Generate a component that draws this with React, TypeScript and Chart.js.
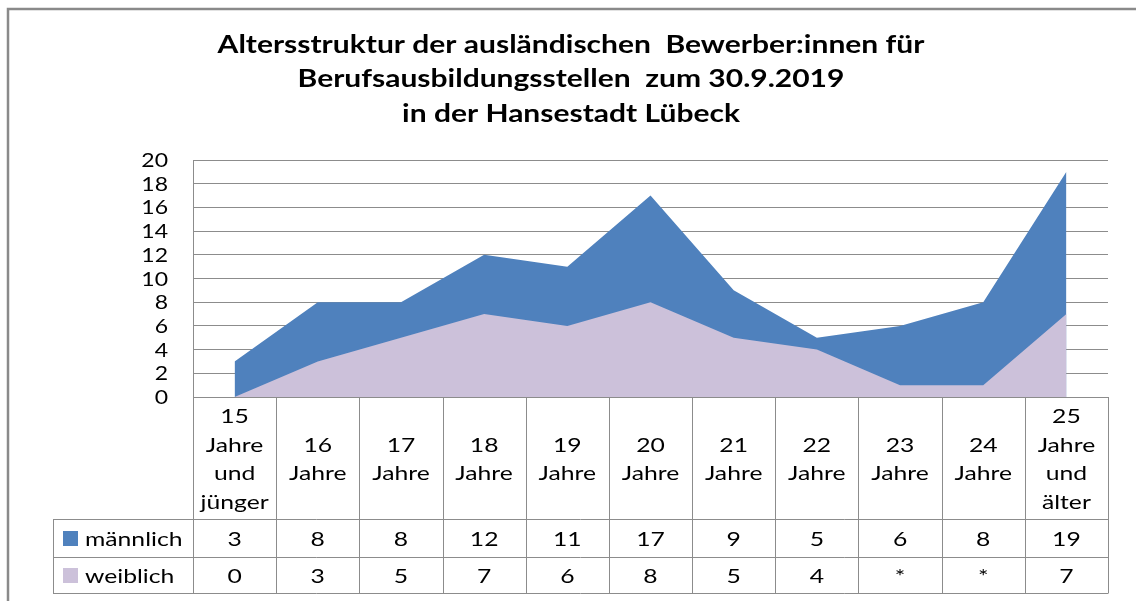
import React, { useEffect, useRef } from "react";
import { Chart, registerables } from "chart.js";

Chart.register(...registerables);

const titleLines = [
  "Altersstruktur der ausländischen  Bewerber:innen für",
  "Berufsausbildungsstellen  zum 30.9.2019",
  "in der Hansestadt Lübeck",
];

const categoryLines: string[][] = [
  ["15", "Jahre", "und", "jünger"],
  ["16", "Jahre"],
  ["17", "Jahre"],
  ["18", "Jahre"],
  ["19", "Jahre"],
  ["20", "Jahre"],
  ["21", "Jahre"],
  ["22", "Jahre"],
  ["23", "Jahre"],
  ["24", "Jahre"],
  ["25", "Jahre", "und", "älter"],
];

const seriesNames = ["männlich", "weiblich"];
const maennlich = [3, 8, 8, 12, 11, 17, 9, 5, 6, 8, 19];
// plotted values (table shows "*" for suppressed small values)
const weiblich = [0, 3, 5, 7, 6, 8, 5, 4, 1, 1, 7];
const weiblichTable = ["0", "3", "5", "7", "6", "8", "5", "4", "*", "*", "7"];

const COLOR_M = "#4F81BD";
const COLOR_W = "#CCC1DA";
const LINE = "#8c8c8c";
const FONT = "Lato, 'Open Sans', sans-serif";

function stretchText(
  ctx: CanvasRenderingContext2D,
  text: string,
  x: number,
  y: number,
  align: "left" | "center" | "right",
  sx: number
) {
  ctx.save();
  ctx.translate(x, y);
  ctx.scale(sx, 1);
  ctx.textAlign = align;
  ctx.fillText(text, 0, 0);
  ctx.restore();
}

const decorPlugin = {
  id: "decor",
  afterDraw(chart: any) {
    const ctx: CanvasRenderingContext2D = chart.ctx;
    const area = chart.chartArea;
    const xs = chart.scales.x;
    const ys = chart.scales.y;
    const n = categoryLines.length;
    const left = area.left;
    const right = area.right;
    const colW = (right - left) / n;
    const top = area.bottom;
    const headerBottom = top + 122;
    const row1Bottom = headerBottom + 38;
    const row2Bottom = row1Bottom + 36;
    const legendLeft = 53;

    ctx.save();
    // outer frame
    ctx.strokeStyle = "#8a8a8a";
    ctx.lineWidth = 2.5;
    ctx.beginPath();
    ctx.moveTo(8, chart.height + 2);
    ctx.lineTo(8, 9);
    ctx.lineTo(chart.width + 2, 9);
    ctx.stroke();

    // title
    ctx.fillStyle = "#000";
    ctx.textBaseline = "alphabetic";
    ctx.font = `bold 25px ${FONT}`;
    const tBase = [53, 87, 122];
    titleLines.forEach((t, i) => stretchText(ctx, t, 571, tBase[i], "center", 1.2));

    // y tick labels (from the y scale's ticks)
    ctx.font = `20px ${FONT}`;
    ys.ticks.forEach((t: any) => {
      const y = ys.getPixelForValue(t.value);
      stretchText(ctx, String(t.value), 168, y + 7, "right", 1.15);
    });

    // table lines
    ctx.strokeStyle = LINE;
    ctx.lineWidth = 1;
    ctx.beginPath();
    const hl = (x1: number, x2: number, y: number) => {
      ctx.moveTo(x1, Math.round(y) + 0.5);
      ctx.lineTo(x2, Math.round(y) + 0.5);
    };
    const vl = (x: number, y1: number, y2: number) => {
      ctx.moveTo(Math.round(x) + 0.5, y1);
      ctx.lineTo(Math.round(x) + 0.5, y2);
    };
    hl(left, right, top);
    hl(legendLeft, right, headerBottom);
    hl(legendLeft, right, row1Bottom);
    hl(legendLeft, right, row2Bottom);
    for (let k = 0; k <= n; k++) vl(left + k * colW, top, row2Bottom + 0.5);
    vl(legendLeft, headerBottom, row2Bottom + 0.5);
    ctx.stroke();

    // header labels
    ctx.fillStyle = "#000";
    ctx.font = `19px ${FONT}`;
    const lh = 28.5;
    const headerMid = 466;
    categoryLines.forEach((lines, i) => {
      const cx = xs.getPixelForValue(i);
      lines.forEach((l, j) => {
        const y = headerMid + (j - (lines.length - 1) / 2) * lh;
        stretchText(ctx, l, cx, y, "center", 1.3);
      });
    });

    // rows
    const rowBase = [headerBottom + 27, row1Bottom + 26];
    const rowVals = [maennlich.map(String), weiblichTable];
    const colors = [COLOR_M, COLOR_W];
    rowVals.forEach((vals, r) => {
      ctx.fillStyle = colors[r];
      ctx.fillRect(63, rowBase[r] - 15, 15, 15);
      ctx.fillStyle = "#000";
      stretchText(ctx, seriesNames[r], 85, rowBase[r], "left", 1.3);
      vals.forEach((v, i) => {
        stretchText(ctx, v, xs.getPixelForValue(i), rowBase[r], "center", 1.3);
      });
    });
    ctx.restore();
  },
};

export default function App() {
  const ref = useRef<HTMLCanvasElement | null>(null);
  useEffect(() => {
    if (!ref.current) return;
    const chart = new Chart(ref.current, {
      type: "line",
      data: {
        labels: categoryLines.map((l) => l.join(" ")),
        datasets: [
          {
            label: seriesNames[0],
            data: maennlich,
            backgroundColor: COLOR_M,
            borderColor: "rgba(0,0,0,0)",
            borderWidth: 0,
            pointRadius: 0,
            fill: "origin",
            order: 1,
          },
          {
            label: seriesNames[1],
            data: weiblich,
            backgroundColor: COLOR_W,
            borderColor: "rgba(0,0,0,0)",
            borderWidth: 0,
            pointRadius: 0,
            fill: "origin",
            order: 0,
          },
        ],
      },
      options: {
        responsive: false,
        animation: false,
        layout: { padding: { left: 0, right: 28, top: 160, bottom: 204 } },
        plugins: {
          legend: { display: false },
          title: { display: false },
          tooltip: { enabled: false },
        },
        scales: {
          x: { type: "category", offset: true, display: false },
          y: {
            min: 0,
            max: 20,
            ticks: {
              stepSize: 2,
              autoSkip: false,
              display: false,
            },
            grid: { color: LINE, drawTicks: false, lineWidth: 1 },
            border: { display: true, color: LINE },
            afterFit: (s: any) => {
              s.width = 193;
            },
          },
        },
      },
      plugins: [decorPlugin],
    } as any);
    return () => chart.destroy();
  }, []);
  return (
    <div style={{ position: "fixed", left: 0, top: 0, width: 1136, height: 601, background: "#fff" }}>
      <canvas ref={ref} width={1136} height={601} style={{ display: "block" }} />
    </div>
  );
}
